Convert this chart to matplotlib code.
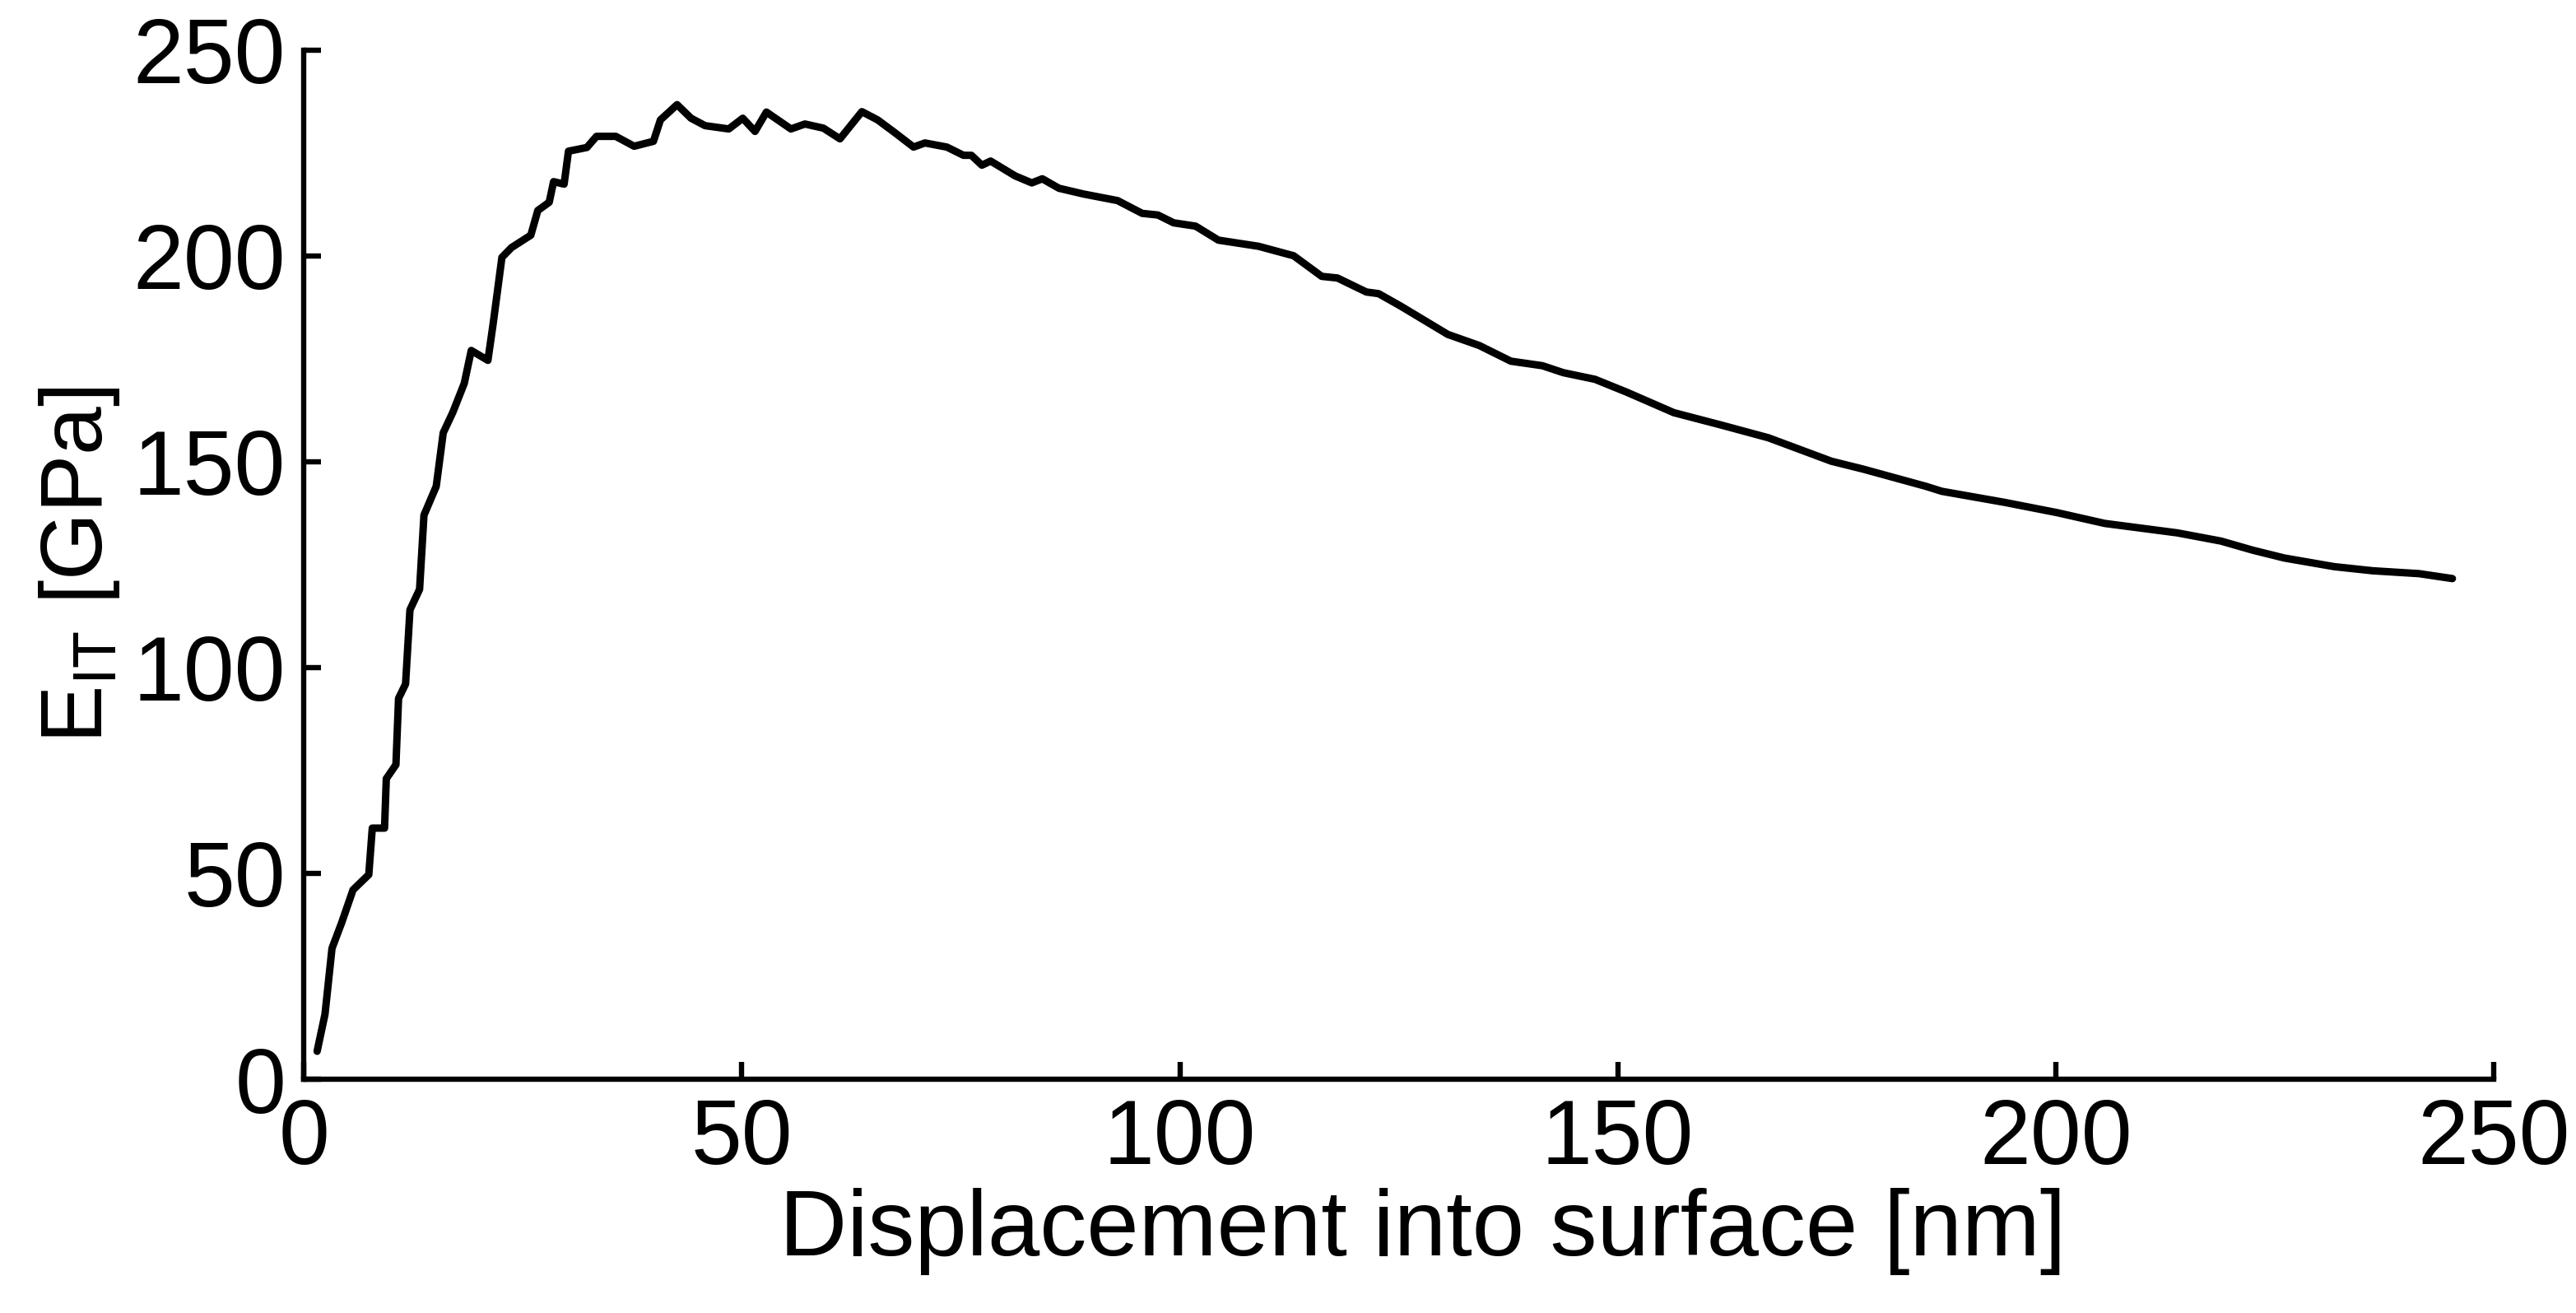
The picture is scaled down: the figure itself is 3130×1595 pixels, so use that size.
import matplotlib.pyplot as plt

plt.rcParams['font.family'] = ['Liberation Sans', 'DejaVu Sans']
plt.rcParams['mathtext.fontset'] = 'custom'
plt.rcParams['mathtext.rm'] = 'Liberation Sans'

# displacement [nm] and E_IT [GPa]
displacement = [1.5, 2.4, 3.2, 4.3, 5.6, 7.4, 7.8, 9.2, 9.4, 10.5, 10.8, 11.6, 12.1, 13.2, 13.7,
                15.1, 15.9, 17.0, 18.3, 19.1, 21.0, 21.6, 22.6, 23.7, 25.9, 26.7, 28.0, 28.5,
                29.7, 30.2, 32.3, 33.4, 35.6, 37.7, 39.9, 40.7, 42.6, 44.2, 45.8, 48.5, 50.1,
                51.5, 52.8, 55.6, 57.2, 59.3, 61.2, 63.7, 65.5, 67.4, 69.6, 70.9, 73.4, 75.3,
                76.2, 77.4, 78.4, 81.2, 83.1, 84.3, 86.2, 89.0, 92.9, 95.7, 97.5, 99.3, 101.8,
                104.4, 109.0, 113.0, 116.2, 118.0, 121.3, 122.7, 125.2, 130.6, 134.2, 137.8,
                141.4, 143.8, 147.4, 151.0, 156.4, 161.8, 167.2, 174.4, 178.0, 185.2, 187.0,
                194.2, 200.2, 205.6, 213.9, 218.9, 222.5, 226.1, 231.8, 236.2, 241.5, 245.3]
modulus = [6.8, 15.8, 31.8, 38, 46, 49.7, 61, 61, 73, 76.4, 92.5, 96, 114, 119, 137,
           144, 157, 162, 169, 177, 174.6, 183.5, 199.6, 202, 205, 211, 213, 218,
           217.4, 225.4, 226.3, 229, 229, 226.6, 227.8, 233, 236.7, 233.4, 231.6, 230.8, 233.4,
           230.2, 234.9, 230.8, 232, 231.0, 228.4, 235.0, 233.0, 230.0, 226.4, 227.4, 226.4, 224.4,
           224.4, 222.0, 223.0, 219.4, 217.7, 218.7, 216.4, 215.0, 213.4, 210.3, 209.9, 208.0, 207.2,
           203.8, 202.3, 200.0, 195.0, 194.6, 191.2, 190.8, 187.8, 180.9, 178.2, 174.4,
           173.3, 171.6, 170.0, 166.9, 161.9, 158.9, 155.8, 150.1, 148.2, 144.0, 142.8,
           140.1, 137.6, 135.0, 132.7, 130.7, 128.5, 126.6, 124.5, 123.5, 122.8, 121.6]
ticks = [0, 50, 100, 150, 200, 250]

fig = plt.figure(figsize=(31.3, 15.95), dpi=100)
ax = fig.add_axes([0.118, 0.178, 0.850, 0.784])
ax.plot(displacement, modulus, color='black', linewidth=6.5,
        solid_joinstyle='round', solid_capstyle='round')

ax.set_xlim(0, 250)
ax.set_ylim(0, 250)
ax.set_xticks(ticks)
ax.set_yticks(ticks)
for side in ['top', 'right']:
    ax.spines[side].set_visible(False)
for side in ['left', 'bottom']:
    ax.spines[side].set_linewidth(4.6)
ax.tick_params(direction='in', length=15, width=4.6, labelsize=80, pad=16)

ax.set_xlabel('Displacement into surface [nm]', fontsize=82, labelpad=4)
ax.xaxis.label.set_x(0.511)
ax.set_ylabel(r'E$_{\mathrm{IT}}$ [GPa]', fontsize=76, labelpad=10)

fig.savefig('out.png', dpi=100, facecolor='white')
